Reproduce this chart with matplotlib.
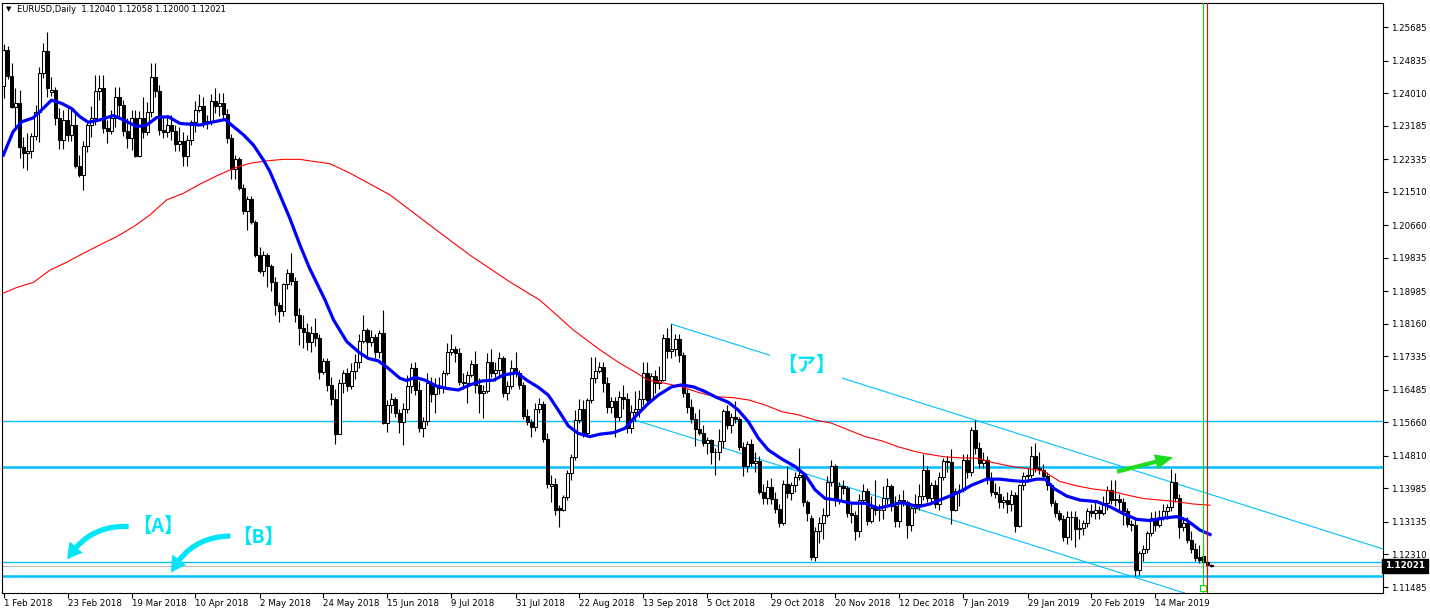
import matplotlib
matplotlib.use("Agg")
import matplotlib.pyplot as plt
import matplotlib.transforms as mtransforms
from matplotlib.patches import FancyArrowPatch
import numpy as np

plt.rcParams['font.family'] = ['DejaVu Sans']

# EURUSD daily candles, bar 0 = 1 Feb 2018 ... bar 302 = 3 Apr 2019
opens = [
    1.2418, 1.2510, 1.2445, 1.2366, 1.2377, 1.2263, 1.2248, 1.2254, 1.2292, 1.2352,
    1.2451, 1.2507, 1.2403, 1.2409, 1.2339, 1.2282, 1.2333, 1.2295, 1.2320, 1.2215,
    1.2193, 1.2268, 1.2320, 1.2337, 1.2406, 1.2413, 1.2312, 1.2305, 1.2337, 1.2392,
    1.2371, 1.2305, 1.2288, 1.2337, 1.2241, 1.2339, 1.2303, 1.2354, 1.2443, 1.2405,
    1.2307, 1.2302, 1.2320, 1.2305, 1.2271, 1.2279, 1.2241, 1.2282, 1.2328, 1.2358,
    1.2368, 1.2324, 1.2330, 1.2381, 1.2368, 1.2375, 1.2347, 1.2288, 1.2209, 1.2233,
    1.2161, 1.2102, 1.2132, 1.2075, 1.1990, 1.1950, 1.1990, 1.1963, 1.1923, 1.1864,
    1.1848, 1.1916, 1.1944, 1.1925, 1.1837, 1.1806, 1.1796, 1.1771, 1.1792, 1.1780,
    1.1694, 1.1721, 1.1660, 1.1624, 1.1536, 1.1665, 1.1690, 1.1658, 1.1697, 1.1720,
    1.1773, 1.1800, 1.1770, 1.1783, 1.1745, 1.1792, 1.1565, 1.1610, 1.1625, 1.1590,
    1.1568, 1.1600, 1.1658, 1.1703, 1.1648, 1.1552, 1.1569, 1.1665, 1.1638, 1.1658,
    1.1652, 1.1690, 1.1745, 1.1751, 1.1742, 1.1669, 1.1665, 1.1686, 1.1713, 1.1660,
    1.1640, 1.1645, 1.1720, 1.1690, 1.1700, 1.1728, 1.1641, 1.1658, 1.1705, 1.1690,
    1.1660, 1.1582, 1.1568, 1.1553, 1.1599, 1.1612, 1.1525, 1.1405, 1.1410, 1.1348,
    1.1345, 1.1376, 1.1437, 1.1479, 1.1572, 1.1599, 1.1538, 1.1622, 1.1678, 1.1697,
    1.1707, 1.1666, 1.1605, 1.1620, 1.1580, 1.1631, 1.1624, 1.1551, 1.1593, 1.1600,
    1.1626, 1.1690, 1.1623, 1.1684, 1.1666, 1.1673, 1.1779, 1.1747, 1.1751, 1.1777,
    1.1736, 1.1640, 1.1604, 1.1575, 1.1548, 1.1539, 1.1513, 1.1522, 1.1490, 1.1490,
    1.1520, 1.1595, 1.1560, 1.1580, 1.1575, 1.1503, 1.1455, 1.1512, 1.1464, 1.1469,
    1.1390, 1.1375, 1.1402, 1.1372, 1.1347, 1.1311, 1.1409, 1.1388, 1.1406, 1.1427,
    1.1433, 1.1365, 1.1323, 1.1225, 1.1290, 1.1310, 1.1330, 1.1415, 1.1455, 1.1370,
    1.1405, 1.1400, 1.1337, 1.1330, 1.1290, 1.1370, 1.1392, 1.1315, 1.1350, 1.1343,
    1.1343, 1.1375, 1.1405, 1.1355, 1.1315, 1.1370, 1.1363, 1.1305, 1.1350, 1.1360,
    1.1380, 1.1445, 1.1373, 1.1407, 1.1360, 1.1428, 1.1468, 1.1465, 1.1345, 1.1392,
    1.1395, 1.1470, 1.1440, 1.1547, 1.1500, 1.1462, 1.1470, 1.1424, 1.1390, 1.1385,
    1.1365, 1.1368, 1.1360, 1.1382, 1.1302, 1.1407, 1.1430, 1.1432, 1.1480, 1.1450,
    1.1445, 1.1430, 1.1407, 1.1362, 1.1335, 1.1322, 1.1276, 1.1327, 1.1326, 1.1295,
    1.1298, 1.1310, 1.1340, 1.1336, 1.1345, 1.1335, 1.1362, 1.1395, 1.1370, 1.1372,
    1.1365, 1.1340, 1.1308, 1.1305, 1.1192, 1.1234, 1.1246, 1.1285, 1.1323, 1.1305,
    1.1325, 1.1340, 1.1352, 1.1415, 1.1375, 1.1300, 1.1312, 1.1267, 1.1246, 1.1225,
    1.1227, 1.1213, 1.12040,
]
highs = [
    1.2525, 1.2520, 1.2476, 1.2413, 1.2409, 1.2290, 1.2299, 1.2299, 1.2372, 1.2468,
    1.2527, 1.2556, 1.2443, 1.2417, 1.2362, 1.2358, 1.2362, 1.2362, 1.2350, 1.2244,
    1.2280, 1.2333, 1.2368, 1.2447, 1.2447, 1.2448, 1.2333, 1.2358, 1.2417, 1.2417,
    1.2383, 1.2337, 1.2358, 1.2358, 1.2356, 1.2392, 1.2378, 1.2476, 1.2477, 1.2422,
    1.2337, 1.2345, 1.2345, 1.2320, 1.2316, 1.2303, 1.2295, 1.2333, 1.2381, 1.2398,
    1.2392, 1.2345, 1.2398, 1.2415, 1.2400, 1.2400, 1.2360, 1.2296, 1.2245, 1.2240,
    1.2170, 1.2140, 1.2140, 1.2080, 1.2010, 1.2000, 1.1995, 1.1968, 1.1935, 1.1870,
    1.1920, 1.1955, 1.1995, 1.1935, 1.1855, 1.1838, 1.1818, 1.1810, 1.1830, 1.1790,
    1.1730, 1.1730, 1.1682, 1.1650, 1.1675, 1.1700, 1.1705, 1.1717, 1.1740, 1.1790,
    1.1838, 1.1805, 1.1800, 1.1790, 1.1800, 1.1852, 1.1623, 1.1640, 1.1630, 1.1600,
    1.1615, 1.1686, 1.1716, 1.1720, 1.1672, 1.1580, 1.1690, 1.1680, 1.1678, 1.1680,
    1.1700, 1.1768, 1.1791, 1.1760, 1.1755, 1.1690, 1.1695, 1.1725, 1.1747, 1.1678,
    1.1660, 1.1741, 1.1751, 1.1720, 1.1745, 1.1735, 1.1670, 1.1724, 1.1745, 1.1700,
    1.1668, 1.1600, 1.1575, 1.1615, 1.1627, 1.1620, 1.1538, 1.1432, 1.1425, 1.1357,
    1.1383, 1.1445, 1.1485, 1.1598, 1.1626, 1.1622, 1.1628, 1.1733, 1.1733, 1.1720,
    1.1720, 1.1680, 1.1630, 1.1630, 1.1645, 1.1660, 1.1640, 1.1610, 1.1645, 1.1648,
    1.1720, 1.1720, 1.1690, 1.1700, 1.1710, 1.1790, 1.1806, 1.1815, 1.1790, 1.1790,
    1.1745, 1.1650, 1.1625, 1.1590, 1.1600, 1.1560, 1.1530, 1.1525, 1.1500, 1.1550,
    1.1600, 1.1610, 1.1590, 1.1621, 1.1580, 1.1515, 1.1520, 1.1525, 1.1490, 1.1480,
    1.1410, 1.1420, 1.1425, 1.1390, 1.1360, 1.1420, 1.1455, 1.1415, 1.1440, 1.1500,
    1.1440, 1.1370, 1.1330, 1.1300, 1.1325, 1.1350, 1.1430, 1.1470, 1.1460, 1.1415,
    1.1420, 1.1405, 1.1360, 1.1340, 1.1385, 1.1410, 1.1400, 1.1380, 1.1420, 1.1360,
    1.1405, 1.1425, 1.1410, 1.1380, 1.1385, 1.1395, 1.1370, 1.1355, 1.1385, 1.1410,
    1.1487, 1.1455, 1.1415, 1.1420, 1.1440, 1.1475, 1.1480, 1.1498, 1.1400, 1.1410,
    1.1485, 1.1485, 1.1555, 1.1572, 1.1515, 1.1490, 1.1480, 1.1440, 1.1412, 1.1405,
    1.1380, 1.1390, 1.1395, 1.1390, 1.1410, 1.1440, 1.1450, 1.1505, 1.1514, 1.1490,
    1.1460, 1.1440, 1.1412, 1.1370, 1.1345, 1.1330, 1.1340, 1.1341, 1.1340, 1.1320,
    1.1318, 1.1350, 1.1358, 1.1370, 1.1355, 1.1380, 1.1405, 1.1420, 1.1420, 1.1385,
    1.1375, 1.1350, 1.1318, 1.1320, 1.1240, 1.1255, 1.1290, 1.1338, 1.1340, 1.1345,
    1.1360, 1.1360, 1.1448, 1.1437, 1.1385, 1.1325, 1.1325, 1.1290, 1.1260, 1.1255,
    1.1260, 1.1220, 1.12058,
]
lows = [
    1.2388, 1.2436, 1.2362, 1.2316, 1.2236, 1.2210, 1.2206, 1.2237, 1.2282, 1.2278,
    1.2440, 1.2392, 1.2394, 1.2320, 1.2260, 1.2259, 1.2280, 1.2280, 1.2210, 1.2189,
    1.2155, 1.2252, 1.2290, 1.2320, 1.2384, 1.2300, 1.2274, 1.2298, 1.2316, 1.2335,
    1.2292, 1.2261, 1.2257, 1.2240, 1.2238, 1.2287, 1.2295, 1.2340, 1.2392, 1.2295,
    1.2287, 1.2290, 1.2283, 1.2254, 1.2254, 1.2216, 1.2216, 1.2270, 1.2303, 1.2352,
    1.2316, 1.2310, 1.2320, 1.2350, 1.2342, 1.2335, 1.2275, 1.2182, 1.2182, 1.2155,
    1.2095, 1.2055, 1.2070, 1.1985, 1.1945, 1.1938, 1.1910, 1.1900, 1.1838, 1.1820,
    1.1835, 1.1905, 1.1915, 1.1820, 1.1763, 1.1754, 1.1750, 1.1745, 1.1760, 1.1677,
    1.1688, 1.1645, 1.1610, 1.1510, 1.1536, 1.1640, 1.1645, 1.1650, 1.1676, 1.1705,
    1.1768, 1.1728, 1.1760, 1.1728, 1.1730, 1.1563, 1.1542, 1.1590, 1.1580, 1.1540,
    1.1508, 1.1590, 1.1640, 1.1635, 1.1541, 1.1528, 1.1560, 1.1618, 1.1590, 1.1638,
    1.1640, 1.1685, 1.1737, 1.1720, 1.1660, 1.1650, 1.1614, 1.1680, 1.1640, 1.1590,
    1.1576, 1.1640, 1.1680, 1.1670, 1.1680, 1.1630, 1.1622, 1.1650, 1.1680, 1.1650,
    1.1575, 1.1560, 1.1530, 1.1545, 1.1590, 1.1515, 1.1400, 1.1365, 1.1332, 1.1301,
    1.1340, 1.1370, 1.1420, 1.1470, 1.1565, 1.1530, 1.1530, 1.1615, 1.1665, 1.1690,
    1.1644, 1.1590, 1.1590, 1.1530, 1.1570, 1.1600, 1.1540, 1.1540, 1.1570, 1.1580,
    1.1610, 1.1610, 1.1620, 1.1640, 1.1650, 1.1670, 1.1730, 1.1730, 1.1735, 1.1720,
    1.1630, 1.1590, 1.1565, 1.1505, 1.1535, 1.1505, 1.1485, 1.1460, 1.1432, 1.1470,
    1.1500, 1.1550, 1.1540, 1.1565, 1.1495, 1.1430, 1.1440, 1.1455, 1.1440, 1.1385,
    1.1360, 1.1360, 1.1360, 1.1335, 1.1300, 1.1305, 1.1375, 1.1370, 1.1390, 1.1420,
    1.1355, 1.1315, 1.1216, 1.1215, 1.1260, 1.1270, 1.1325, 1.1405, 1.1355, 1.1360,
    1.1385, 1.1325, 1.1310, 1.1267, 1.1275, 1.1360, 1.1305, 1.1310, 1.1330, 1.1315,
    1.1320, 1.1360, 1.1340, 1.1300, 1.1300, 1.1355, 1.1272, 1.1290, 1.1335, 1.1345,
    1.1370, 1.1365, 1.1365, 1.1350, 1.1345, 1.1420, 1.1440, 1.1309, 1.1340, 1.1355,
    1.1390, 1.1425, 1.1430, 1.1485, 1.1450, 1.1450, 1.1410, 1.1380, 1.1375, 1.1350,
    1.1350, 1.1335, 1.1340, 1.1289, 1.1300, 1.1395, 1.1415, 1.1425, 1.1440, 1.1435,
    1.1420, 1.1395, 1.1355, 1.1325, 1.1315, 1.1265, 1.1258, 1.1268, 1.1249, 1.1270,
    1.1280, 1.1300, 1.1325, 1.1320, 1.1320, 1.1330, 1.1345, 1.1360, 1.1355, 1.1345,
    1.1305, 1.1300, 1.1290, 1.1176, 1.1180, 1.1215, 1.1235, 1.1278, 1.1290, 1.1300,
    1.1318, 1.1320, 1.1340, 1.1365, 1.1274, 1.1290, 1.1260, 1.1235, 1.1215, 1.1210,
    1.1208, 1.1185, 1.12000,
]
closes = [
    1.2510, 1.2445, 1.2366, 1.2377, 1.2263, 1.2248, 1.2254, 1.2292, 1.2352, 1.2451,
    1.2507, 1.2413, 1.2409, 1.2339, 1.2282, 1.2333, 1.2295, 1.2320, 1.2215, 1.2193,
    1.2268, 1.2320, 1.2337, 1.2406, 1.2413, 1.2312, 1.2305, 1.2337, 1.2392, 1.2371,
    1.2305, 1.2288, 1.2337, 1.2241, 1.2339, 1.2303, 1.2354, 1.2443, 1.2405, 1.2307,
    1.2302, 1.2320, 1.2305, 1.2271, 1.2279, 1.2241, 1.2282, 1.2328, 1.2358, 1.2368,
    1.2324, 1.2330, 1.2381, 1.2368, 1.2375, 1.2347, 1.2288, 1.2209, 1.2233, 1.2161,
    1.2102, 1.2132, 1.2075, 1.1990, 1.1950, 1.1990, 1.1963, 1.1923, 1.1864, 1.1848,
    1.1916, 1.1944, 1.1925, 1.1837, 1.1806, 1.1796, 1.1771, 1.1792, 1.1780, 1.1694,
    1.1721, 1.1660, 1.1624, 1.1536, 1.1665, 1.1690, 1.1658, 1.1697, 1.1720, 1.1773,
    1.1800, 1.1770, 1.1783, 1.1745, 1.1792, 1.1565, 1.1610, 1.1625, 1.1590, 1.1568,
    1.1600, 1.1658, 1.1703, 1.1648, 1.1552, 1.1569, 1.1665, 1.1638, 1.1658, 1.1652,
    1.1690, 1.1745, 1.1751, 1.1742, 1.1669, 1.1665, 1.1686, 1.1713, 1.1660, 1.1640,
    1.1645, 1.1720, 1.1690, 1.1700, 1.1728, 1.1641, 1.1658, 1.1705, 1.1690, 1.1660,
    1.1582, 1.1568, 1.1553, 1.1599, 1.1612, 1.1525, 1.1410, 1.1410, 1.1343, 1.1343,
    1.1376, 1.1437, 1.1479, 1.1572, 1.1599, 1.1538, 1.1622, 1.1678, 1.1697, 1.1707,
    1.1666, 1.1605, 1.1620, 1.1580, 1.1631, 1.1624, 1.1551, 1.1593, 1.1600, 1.1626,
    1.1690, 1.1623, 1.1684, 1.1666, 1.1673, 1.1779, 1.1747, 1.1751, 1.1777, 1.1736,
    1.1640, 1.1604, 1.1575, 1.1548, 1.1539, 1.1513, 1.1522, 1.1490, 1.1490, 1.1520,
    1.1595, 1.1560, 1.1580, 1.1575, 1.1503, 1.1455, 1.1512, 1.1464, 1.1469, 1.1390,
    1.1375, 1.1402, 1.1372, 1.1347, 1.1311, 1.1409, 1.1388, 1.1406, 1.1427, 1.1433,
    1.1365, 1.1335, 1.1225, 1.1290, 1.1310, 1.1330, 1.1415, 1.1455, 1.1370, 1.1405,
    1.1400, 1.1337, 1.1330, 1.1290, 1.1370, 1.1392, 1.1315, 1.1350, 1.1343, 1.1343,
    1.1375, 1.1405, 1.1355, 1.1315, 1.1370, 1.1363, 1.1305, 1.1350, 1.1360, 1.1380,
    1.1445, 1.1373, 1.1407, 1.1360, 1.1428, 1.1468, 1.1465, 1.1345, 1.1392, 1.1395,
    1.1470, 1.1440, 1.1547, 1.1500, 1.1462, 1.1470, 1.1424, 1.1390, 1.1385, 1.1365,
    1.1368, 1.1360, 1.1382, 1.1302, 1.1407, 1.1430, 1.1432, 1.1480, 1.1450, 1.1445,
    1.1430, 1.1407, 1.1362, 1.1335, 1.1322, 1.1276, 1.1327, 1.1326, 1.1295, 1.1298,
    1.1310, 1.1340, 1.1336, 1.1345, 1.1335, 1.1362, 1.1395, 1.1370, 1.1372, 1.1365,
    1.1340, 1.1308, 1.1305, 1.1192, 1.1234, 1.1246, 1.1285, 1.1323, 1.1305, 1.1325,
    1.1340, 1.1352, 1.1415, 1.1375, 1.1300, 1.1312, 1.1267, 1.1246, 1.1221, 1.1218,
    1.1213, 1.1204, 1.12021,
]

# moving averages (bar index, price)
fast_ma_x = [-0.2, 2.4, 4.5, 7.4, 9.5, 12, 14.5, 17, 19.1, 21.2, 24.1, 27.5, 30, 33.3, 35.8,
             38.3, 41.2, 44.1, 49.1, 52.5, 55.4, 57.5, 60, 62.5, 65, 66.6, 69.1, 71.6, 74.1,
             76.5, 80.4, 82.5, 85.8, 88.7, 91.2, 93.7, 96.2, 99.1, 100.8, 102.9, 105.4, 108.3,
             110.8, 113.7, 116.6, 119.6, 122.5, 125, 128.3, 130.8, 133.7, 136.2, 138.7, 141.2,
             143.7, 146.6, 149.1, 152.5, 155.4, 157.9, 161.2, 163.7, 167, 169.5, 172.5, 175.4,
             177.9, 181.2, 183.7, 186.2, 188.7, 191.2, 194.6, 197.9, 200.4, 202.9, 205.4,
             208.3, 212, 215.4, 218.7, 222, 224.6, 228.7, 231.6, 235.8, 239.1, 242.1, 245.8,
             249.1, 252.5, 255.4, 258.3, 260.4, 262.5, 265.8, 269.1, 273.3, 276.6, 279.9,
             283.3, 286.6, 289.9, 293.3, 295.8, 299.1, 302]
fast_ma_y = [1.2240, 1.2303, 1.2328, 1.2338, 1.2358, 1.2383, 1.2375, 1.2362, 1.2341, 1.2327,
             1.2333, 1.2344, 1.2333, 1.2316, 1.2320, 1.2339, 1.2341, 1.2324, 1.2320, 1.2328,
             1.2334, 1.2316, 1.2295, 1.2269, 1.2231, 1.2202, 1.2143, 1.2083, 1.2016, 1.1957,
             1.1876, 1.1826, 1.1771, 1.1745, 1.1728, 1.1722, 1.1703, 1.1678, 1.1672, 1.1680,
             1.1673, 1.1658, 1.1652, 1.1648, 1.1661, 1.1671, 1.1673, 1.1686, 1.1692, 1.1673,
             1.1655, 1.1635, 1.1597, 1.1557, 1.1538, 1.1530, 1.1536, 1.1540, 1.1551, 1.1580,
             1.1614, 1.1635, 1.1656, 1.1661, 1.1656, 1.1644, 1.1631, 1.1617, 1.1597, 1.1568,
             1.1526, 1.1496, 1.1473, 1.1454, 1.1433, 1.1395, 1.1373, 1.1369, 1.1361, 1.1361,
             1.1348, 1.1356, 1.1363, 1.1352, 1.1359, 1.1376, 1.1390, 1.1407, 1.1422, 1.1422,
             1.1418, 1.1416, 1.1422, 1.1422, 1.1399, 1.1379, 1.1369, 1.1365, 1.1352, 1.1335,
             1.1320, 1.1317, 1.1323, 1.1327, 1.1318, 1.1293, 1.1280]
slow_ma_x = [-0.2, 3.3, 7.5, 11.6, 15.8, 19.1, 24.1, 28.3, 32.5, 36.6, 40.8, 45, 49.1, 53.3,
             57.5, 61.6, 65.8, 70, 74.1, 76.6, 81.6, 86.6, 96.6, 106.6, 116.6, 126.6, 134.1,
             142.5, 149.1, 154.1, 157, 161.2, 165.4, 169.6, 173.7, 177.9, 182, 186.2, 190.4,
             194.6, 198.7, 202.9, 207, 211.2, 215.4, 219.6, 223.7, 227.9, 230.8, 235, 239.1,
             243.3, 247.4, 251.6, 255.8, 259.9, 264.1, 268.3, 272.4, 276.6, 280.8, 284.9,
             289.1, 293.3, 297.4, 301.6]
slow_ma_y = [1.1893, 1.1908, 1.1921, 1.1952, 1.1972, 1.1990, 1.2016, 1.2037, 1.2062, 1.2092,
             1.2130, 1.2147, 1.2170, 1.2191, 1.2210, 1.2223, 1.2229, 1.2233, 1.2233, 1.2229,
             1.2222, 1.2198, 1.2143, 1.2066, 1.1990, 1.1922, 1.1876, 1.1800, 1.1750, 1.1716,
             1.1699, 1.1673, 1.1665, 1.1656, 1.1642, 1.1631, 1.1629, 1.1623, 1.1610, 1.1593,
             1.1585, 1.1572, 1.1564, 1.1547, 1.1530, 1.1519, 1.1504, 1.1492, 1.1486, 1.1479,
             1.1476, 1.1475, 1.1464, 1.1455, 1.1449, 1.1443, 1.1416, 1.1405, 1.1397, 1.1392,
             1.1382, 1.1373, 1.1369, 1.1365, 1.1359, 1.1356]

# horizontal levels
thin_levels = [1.1569, 1.12127]
thick_levels = [1.14528, 1.11764]
bid = 1.12021

# channel (bar index, price)
upper_channel = ([166.9, 344.9], [1.18154, 1.12449])
lower_channel = ([157.0, 345.0], [1.15745, 1.09744])

yticks = [1.25685, 1.24835, 1.24010, 1.23185, 1.22335, 1.21510, 1.20660, 1.19835, 1.18985,
          1.18160, 1.17335, 1.16485, 1.15660, 1.14810, 1.13985, 1.13135, 1.12310, 1.11485]
xtick_pos = [0, 16, 32, 48, 64, 80, 96, 112, 128, 144, 160, 176, 192, 208, 224, 240, 256, 272, 288]
xtick_labels = ['1 Feb 2018', '23 Feb 2018', '19 Mar 2018', '10 Apr 2018', '2 May 2018',
                '24 May 2018', '15 Jun 2018', '9 Jul 2018', '31 Jul 2018', '22 Aug 2018',
                '13 Sep 2018', '5 Oct 2018', '29 Oct 2018', '20 Nov 2018', '12 Dec 2018',
                '7 Jan 2019', '29 Jan 2019', '20 Feb 2019', '14 Mar 2019']

CYAN = '#00BFFF'
MARK = '#00E6F6'
JP = ['Noto Sans CJK JP', 'DejaVu Sans']

fig = plt.figure(figsize=(14.3, 6.11), dpi=100)
ax = fig.add_axes([2 / 1430, 18 / 611, 1381 / 1430, 590 / 611])
ax.set_xlim(-0.375, 344.875)
ax.set_ylim(1.11333, 1.26294)

o = np.array(opens)
h = np.array(highs)
l = np.array(lows)
c = np.array(closes)
idx = np.arange(len(c))
up = c >= o
bottom = np.minimum(o, c)
height = np.maximum(np.abs(c - o), 0.00004)

ax.vlines(idx, l, h, color='black', lw=0.8, zorder=3)
ax.bar(idx[up], height[up], bottom=bottom[up], width=0.55, color='white',
       edgecolor='black', linewidth=0.75, zorder=4)
ax.bar(idx[~up], height[~up], bottom=bottom[~up], width=0.55, color='black',
       edgecolor='black', linewidth=0.75, zorder=4)

ax.plot(slow_ma_x, slow_ma_y, color='#FF0000', lw=0.8, zorder=5)
ax.plot(fast_ma_x, fast_ma_y, color='#0000FF', lw=2.3, zorder=6, solid_capstyle='butt')

for lv in thin_levels:
    ax.axhline(lv, color=CYAN, lw=1.0, zorder=2)
for lv in thick_levels:
    ax.axhline(lv, color=CYAN, lw=1.8, zorder=2)
ax.axhline(bid, color='#C0C0C0', lw=0.9, zorder=2)

ax.plot(*upper_channel, color=CYAN, lw=0.8, zorder=2)
ax.plot(*lower_channel, color=CYAN, lw=0.8, zorder=2)

# vertical period separators near the last bar
ax.axvline(299.9, color='#00DD00', lw=0.8, zorder=7)
ax.axvline(300.9, color='#FF0000', lw=0.8, zorder=7)
trans = mtransforms.blended_transform_factory(ax.transData, ax.transAxes)
ax.plot([299.9], [0.0085], marker='s', ms=4, mfc='white', mec='#00DD00', mew=0.8,
        transform=trans, zorder=8, clip_on=False)

# labels and arrows
ax.text(200.6, 1.17114, '【ア】', color=MARK, fontsize=14, weight='bold', family=JP,
        ha='center', va='center', zorder=9,
        bbox=dict(boxstyle='square,pad=0.35', fc='white', ec='none'))
ax.text(38.6, 1.13032, '【A】', color=MARK, fontsize=14, weight='bold', family=JP,
        ha='center', va='center', zorder=9)
ax.text(63.6, 1.12753, '【B】', color=MARK, fontsize=14, weight='bold', family=JP,
        ha='center', va='center', zorder=9)

style = 'simple,head_length=1.1,head_width=1.25,tail_width=0.38'
for start, tip in [((32.0, 1.13014), (15.6, 1.12119)), ((57.4, 1.12779), (41.6, 1.11782))]:
    ax.add_patch(FancyArrowPatch(start, tip, arrowstyle=style, mutation_scale=10,
                                 connectionstyle='arc3,rad=0.32', color=MARK, lw=0,
                                 zorder=9))
ax.add_patch(FancyArrowPatch((277.7, 1.14393), (293.1, 1.14789),
                             arrowstyle='simple,head_length=1.3,head_width=1.1,tail_width=0.3',
                             mutation_scale=10, color='#1EDC1E', lw=0, zorder=9))

# axes styling
for sp in ax.spines.values():
    sp.set_linewidth(0.8)
    sp.set_color('black')
ax.yaxis.tick_right()
ax.set_yticks(yticks)
ax.set_yticklabels(['%.5f' % v for v in yticks])
ax.set_xticks(xtick_pos)
ax.set_xticklabels(xtick_labels)
plt.setp(ax.get_xticklabels(), ha='left')
ax.tick_params(axis='y', direction='out', length=3.5, width=0.8, pad=2, labelsize=6.2)
ax.tick_params(axis='x', direction='out', length=3.5, width=0.8, pad=1, labelsize=6.2)

ax.text(1.0 + 2 / 1381, bid, '1.12021', transform=mtransforms.blended_transform_factory(
    ax.transAxes, ax.transData), color='white', fontsize=6.3, weight='bold', ha='left',
    va='center', clip_on=False, zorder=10,
    bbox=dict(boxstyle='square,pad=0.3', fc='black', ec='black'))

fig.text(6 / 1430, 1 - 9 / 611, '▼', fontsize=5, va='center', ha='left')
fig.text(17 / 1430, 1 - 9 / 611, 'EURUSD,Daily  1.12040 1.12058 1.12000 1.12021',
         fontsize=6.0, va='center', ha='left')

fig.savefig('out.png', dpi=100)
